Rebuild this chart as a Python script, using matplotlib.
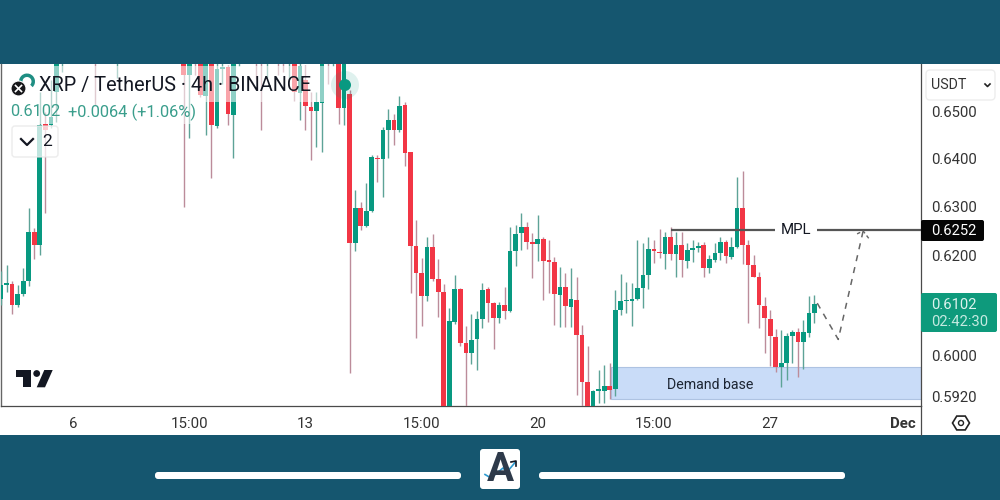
import matplotlib
matplotlib.use("Agg")
import matplotlib.pyplot as plt
from matplotlib.patches import Circle, FancyBboxPatch, Polygon, Rectangle, Wedge
from matplotlib.ticker import NullLocator
import numpy as np

plt.rcParams['font.family'] = ['Roboto', 'DejaVu Sans']

# bars scrolled off above the chart are left out
bar_index = list(range(0, 12)) + [17, 21] + list(range(33, 44)) + [46, 47, 48, 50, 51, 52] + list(range(53, 148))

opens = [
    .6112, .6140, .6142, .6100, .6122, .6148, .6248, .6221, .6472, .6470, .6541, .6614,
    .6640, .6625,
    .6610, .6577, .6632, .6610, .6532, .6610, .6468, .6590, .6595, .6491, .6610,
    .6632, .6632, .6610, .6632, .6632, .6610,
    .6610, .6539, .6566, .6508, .6500, .6517, .6610, .6606, .6610, .6506,
    .6536, .6225, .6297, .6260, .6291, .6401, .6399, .6460, .6481, .6460,
    .6513, .6413, .6219, .6164, .6118, .6217, .6152, .6126, .5875, .6066,
    .6132, .6024, .6005, .6032, .6072, .6132, .6104, .6074, .6100, .6088,
    .6209, .6246, .6258, .6227, .6223, .6233, .6191, .6187, .6120, .6136,
    .6096, .6110, .6040, .5948, .5894, .5931, .5931, .5940, .5935, .6090,
    .6108, .6108, .6112, .6134, .6160, .6213, .6207, .6203, .6237, .6203,
    .6221, .6189, .6211, .6215, .6221, .6174, .6191, .6205, .6227, .6197,
    .6217, .6297, .6221, .6181, .6156, .6098, .6072, .6036, .5977, .5985,
    .6038, .6046, .6026, .6044, .6084,
]
highs = [
    .6168, .6181, .6148, .6140, .6174, .6297, .6256, .6540, .6498, .6566, .6614, .6643,
    .6650, .6650,
    .6614, .6614, .6643, .6614, .6614, .6614, .6610, .6610, .6599, .6614, .6643,
    .6643, .6643, .6643, .6643, .6643, .6643,
    .6614, .6610, .6599, .6541, .6541, .6614, .6614, .6614, .6614, .6614,
    .6545, .6334, .6309, .6349, .6407, .6407, .6466, .6504, .6494, .6532,
    .6519, .6413, .6272, .6195, .6237, .6244, .6193, .6142, .6094, .6160,
    .6134, .6058, .6082, .6088, .6144, .6136, .6106, .6106, .6136, .6258,
    .6262, .6287, .6268, .6246, .6283, .6237, .6231, .6197, .6176, .6164,
    .6174, .6156, .6060, .6020, .5933, .5971, .5981, .5985, .6130, .6162,
    .6146, .6144, .6231, .6225, .6237, .6231, .6254, .6248, .6258, .6248,
    .6248, .6225, .6231, .6227, .6227, .6201, .6225, .6237, .6231, .6237,
    .6361, .6374, .6231, .6201, .6166, .6116, .6090, .6052, .6050, .6044,
    .6050, .6054, .6070, .6118, .6120,
]
lows = [
    .6100, .6126, .6082, .6096, .6118, .6138, .6193, .6201, .6287, .6464, .6477, .6584,
    .6513, .6570,
    .6299, .6442, .6577, .6530, .6449, .6359, .6464, .6558, .6470, .6401, .6597,
    .6568, .6460, .6570, .6577, .6584, .6568,
    .6521, .6481, .6460, .6397, .6425, .6413, .6558, .6597, .6472, .6470,
    .5967, .6209, .6252, .6258, .6289, .6351, .6319, .6401, .6428, .6456,
    .6384, .6124, .6034, .6058, .6108, .6148, .6076, .5865, .5865, .6062,
    .6020, .5885, .5983, .5971, .6054, .6066, .6013, .6064, .6072, .6086,
    .6178, .6211, .6213, .6154, .6189, .6110, .6124, .6060, .6056, .6056,
    .6056, .5923, .5898, .5885, .5885, .5907, .5907, .5915, .5921, .6080,
    .6084, .6058, .6110, .6094, .6132, .6185, .6195, .6172, .6191, .6156,
    .6156, .6174, .6187, .6207, .6156, .6164, .6187, .6191, .6185, .6193,
    .6215, .6183, .6064, .6156, .6054, .6005, .5979, .5969, .5938, .5952,
    .5985, .5958, .5973, .6036, .6064,
]
closes = [
    .6140, .6144, .6100, .6122, .6148, .6248, .6221, .6470, .6460, .6487, .6610, .6632,
    .6625, .6640,
    .6577, .6610, .6614, .6534, .6610, .6470, .6590, .6595, .6493, .6610, .6632,
    .6610, .6610, .6632, .6610, .6610, .6632,
    .6541, .6597, .6511, .6500, .6519, .6610, .6606, .6610, .6506, .6610,
    .6225, .6297, .6260, .6291, .6403, .6399, .6460, .6481, .6460, .6510,
    .6411, .6219, .6164, .6118, .6217, .6152, .6126, .5875, .6068, .6132,
    .6024, .6005, .6030, .6072, .6130, .6104, .6074, .6100, .6088, .6209,
    .6244, .6258, .6227, .6223, .6233, .6189, .6187, .6122, .6136, .6098,
    .6112, .6040, .5948, .5894, .5931, .5935, .5940, .5933, .6090, .6108,
    .6110, .6112, .6134, .6160, .6213, .6209, .6205, .6237, .6203, .6221,
    .6191, .6211, .6215, .6219, .6174, .6193, .6205, .6227, .6199, .6217,
    .6297, .6221, .6181, .6156, .6100, .6074, .6038, .5977, .5985, .6038,
    .6046, .6026, .6046, .6084, .6102,
]

date_ticks = [13, 34, 55, 76, 97, 118, 139, 163]
date_labels = ['6', '15:00', '13', '15:00', '20', '15:00', '27', 'Dec']
price_ticks = [0.65, 0.64, 0.63, 0.62, 0.60, 0.592]
price_labels = ['0.6500', '0.6400', '0.6300', '0.6200', '0.6000', '0.5920']

mpl_price = 0.6252
mpl_start = 121
last_price = 0.6102
demand_top = 0.5977
demand_bottom = 0.5915
demand_start = 110.3
path_x = [147.5, 151.3, 155.8]
path_y = [0.6104, 0.6032, 0.6250]
arrow_x = [154.7, 155.8, 157.0]
arrow_y = [0.6244, 0.6250, 0.6232]

TEAL = '#15566F'
GREEN = '#089981'
RED = '#F23645'
GREEN_WICK = '#5DA397'
RED_WICK = '#BC8C9A'
INK = '#131722'
LINE = '#4A4A4A'


def draw_candles(ax):
    o, h, l, c = map(np.array, (opens, highs, lows, closes))
    x = np.array(bar_index)
    up = c >= o
    ax.vlines(x[up], l[up], h[up], color=GREEN_WICK, lw=1.0, zorder=3)
    ax.vlines(x[~up], l[~up], h[~up], color=RED_WICK, lw=1.0, zorder=3)
    bottoms = np.minimum(o, c)
    heights = np.maximum(np.abs(c - o), 0.0003)
    ax.bar(x, heights, bottom=bottoms, width=0.84, zorder=4,
           color=[GREEN if u else RED for u in up], linewidth=0)


def draw_drawings(ax, right):
    ax.add_patch(Rectangle((demand_start, demand_bottom), right - demand_start, demand_top - demand_bottom,
                           facecolor='#C9DCF8', edgecolor='#AEC3E2', lw=0.8, zorder=2))
    ax.text(128.1, 0.5943, 'Demand base', ha='center', va='center', fontsize=10.2, color='#1C2533', zorder=6)
    ax.hlines(mpl_price, mpl_start, right, color='#555555', lw=1.6, zorder=5)
    ax.text(143.7, mpl_price, 'MPL', ha='center', va='center', fontsize=10.8, color=INK, zorder=6,
            bbox=dict(facecolor='white', edgecolor='none', pad=4))
    ax.plot(path_x, path_y, color='#666666', lw=1.1, dashes=(4, 4), zorder=6)
    ax.plot(arrow_x, arrow_y, color='#666666', lw=1.0, dashes=(2.5, 2), zorder=6)


def draw_legend(ov):
    # the legend washes out the candles behind it
    ov.add_patch(Rectangle((10, 66), 325, 36, facecolor='white', alpha=0.55, lw=0))
    ov.add_patch(Rectangle((8, 102), 189, 22, facecolor='white', alpha=0.55, lw=0))
    ov.add_patch(FancyBboxPatch((12, 126), 46, 31, boxstyle='round,pad=0,rounding_size=3',
                                facecolor='white', edgecolor='#E6E6E6', lw=1, alpha=0.75))
    ov.add_patch(Wedge((27, 81.5), 8, 170, 45, width=3.5, facecolor='#1F8E83', lw=0))
    ov.add_patch(Circle((18.5, 88.5), 7.5, facecolor='#17171A', edgecolor='white', lw=0.8))
    ov.plot([15.5, 21.5], [85.5, 91.5], color='white', lw=1.2)
    ov.plot([15.5, 21.5], [91.5, 85.5], color='white', lw=1.2)
    ov.text(39, 85.5, 'XRP / TetherUS · 4h · BINANCE', fontsize=14.35, color=INK, va='center')
    ov.text(10.5, 112, '0.6102', fontsize=11.8, color='#3A9E8C', va='center')
    ov.text(68, 112, '+0.0064 (+1.06%)', fontsize=11.8, color='#3A9E8C', va='center')
    ov.plot([21, 27, 33], [139, 145, 139], color=INK, lw=1.6)
    ov.text(47.5, 141, '2', fontsize=12.5, color=INK, ha='center', va='center')
    ov.add_patch(Circle((345, 85), 14, facecolor=GREEN, alpha=0.13, lw=0))
    ov.add_patch(Circle((345, 85), 6, facecolor=GREEN, lw=0))
    # TradingView mark
    ov.add_patch(Polygon([(15.7, 370), (31, 370), (31, 387.3), (22.7, 387.3), (22.7, 377.3), (15.7, 377.3)],
                         facecolor=INK, lw=0))
    ov.add_patch(Circle((36.7, 373.5), 3.4, facecolor=INK, lw=0))
    ov.add_patch(Polygon([(44.3, 370), (52.7, 370), (45, 387.3), (36.7, 387.3)], facecolor=INK, lw=0))


def draw_scale_extras(ov):
    ov.plot([921, 921], [406, 435], color=LINE, lw=0.9)
    ov.add_patch(FancyBboxPatch((926, 70), 69, 30, boxstyle='round,pad=0,rounding_size=4',
                                facecolor='white', edgecolor='#EDEDED', lw=1))
    ov.text(931, 85, 'USDT', fontsize=10.3, color='#333333', va='center')
    ov.plot([985, 987.5, 990], [84, 86.5, 84], color='#222222', lw=1.2)
    ov.add_patch(FancyBboxPatch((921, 220), 63, 21, boxstyle='round,pad=0,rounding_size=2',
                                facecolor='#050505', lw=0))
    ov.text(931, 231, f'{mpl_price:.4f}', fontsize=10.6, color='white', va='center')
    ov.add_patch(FancyBboxPatch((921, 293), 76, 39, boxstyle='round,pad=0,rounding_size=2',
                                facecolor='#0E9A7C', lw=0))
    ov.text(931, 305, f'{last_price:.4f}', fontsize=10.6, color='#DDF3EE', va='center')
    ov.text(931, 322, '02:42:30', fontsize=10.6, color='#C5EAE1', va='center')
    angles = np.deg2rad(np.arange(0, 360, 60))
    ov.add_patch(Polygon(np.c_[961 + 8.5 * np.cos(angles), 423 + 8 * np.sin(angles)],
                         facecolor='none', edgecolor='#222222', lw=1.2))
    ov.add_patch(Circle((961, 423), 2.5, facecolor='none', edgecolor='#222222', lw=1))


def draw_footer(ov):
    for x0 in (155, 539):
        ov.add_patch(FancyBboxPatch((x0, 472), 306, 7, boxstyle='round,pad=0,rounding_size=3',
                                    facecolor='white', lw=0))
    ov.add_patch(FancyBboxPatch((480, 449), 40, 40, boxstyle='round,pad=0,rounding_size=3',
                                facecolor='white', lw=0))
    ov.text(500, 470, 'A', fontsize=29, fontweight='bold', color='#2E3A4A', ha='center', va='center')
    ov.plot([485, 491, 503, 507, 515.5], [474.5, 478, 468, 472, 462], color='white', lw=2.6)
    ov.plot([485, 491, 503, 507, 515.5], [474.5, 478, 468, 472, 462], color='#2C9AD1', lw=1.2)
    ov.plot([511, 516, 516], [462, 461, 466], color=INK, lw=1.2)


def main():
    fig = plt.figure(figsize=(10, 5), dpi=100, facecolor=TEAL)

    # white panel behind the chart and the price scale
    bg = fig.add_axes([0, 65 / 500, 1, 371 / 500], facecolor='white', zorder=0)
    bg.set_axis_off()
    bg.add_patch(Rectangle((0, 0), 1, 1, transform=bg.transAxes, facecolor='white', lw=0))

    ax = fig.add_axes([1.2 / 1000, 94 / 500, 920 / 1000, 342 / 500], facecolor='white', zorder=1)
    right = (921 - 1.08) / 5.532
    ax.set_xlim((1.2 - 1.08) / 5.532, right)
    ax.set_yscale('log')
    ax.set_ylim(0.5902, 0.6601)

    draw_candles(ax)
    draw_drawings(ax, right)

    ax.yaxis.tick_right()
    ax.set_yticks(price_ticks, price_labels)
    ax.yaxis.set_minor_locator(NullLocator())
    ax.set_xticks(date_ticks, date_labels)
    ax.tick_params(axis='y', length=0, pad=7.5, labelsize=10.7, labelcolor='#333333')
    ax.tick_params(axis='x', length=0, pad=8, labelsize=10.8, labelcolor='#333333')
    ax.get_xticklabels()[-1].set_fontweight('bold')
    ax.spines['top'].set_visible(False)
    ax.spines['left'].set_color('#666666')
    ax.spines['left'].set_linewidth(1.0)
    for side in ('bottom', 'right'):
        ax.spines[side].set_color(LINE)
        ax.spines[side].set_linewidth(0.9)

    ov = fig.add_axes([0, 0, 1, 1], facecolor='none', zorder=2)
    ov.set_xlim(0, 1000)
    ov.set_ylim(500, 0)
    ov.axis('off')
    draw_legend(ov)
    draw_scale_extras(ov)
    draw_footer(ov)

    fig.savefig('out.png', dpi=100, facecolor=TEAL)


if __name__ == "__main__":
    main()
